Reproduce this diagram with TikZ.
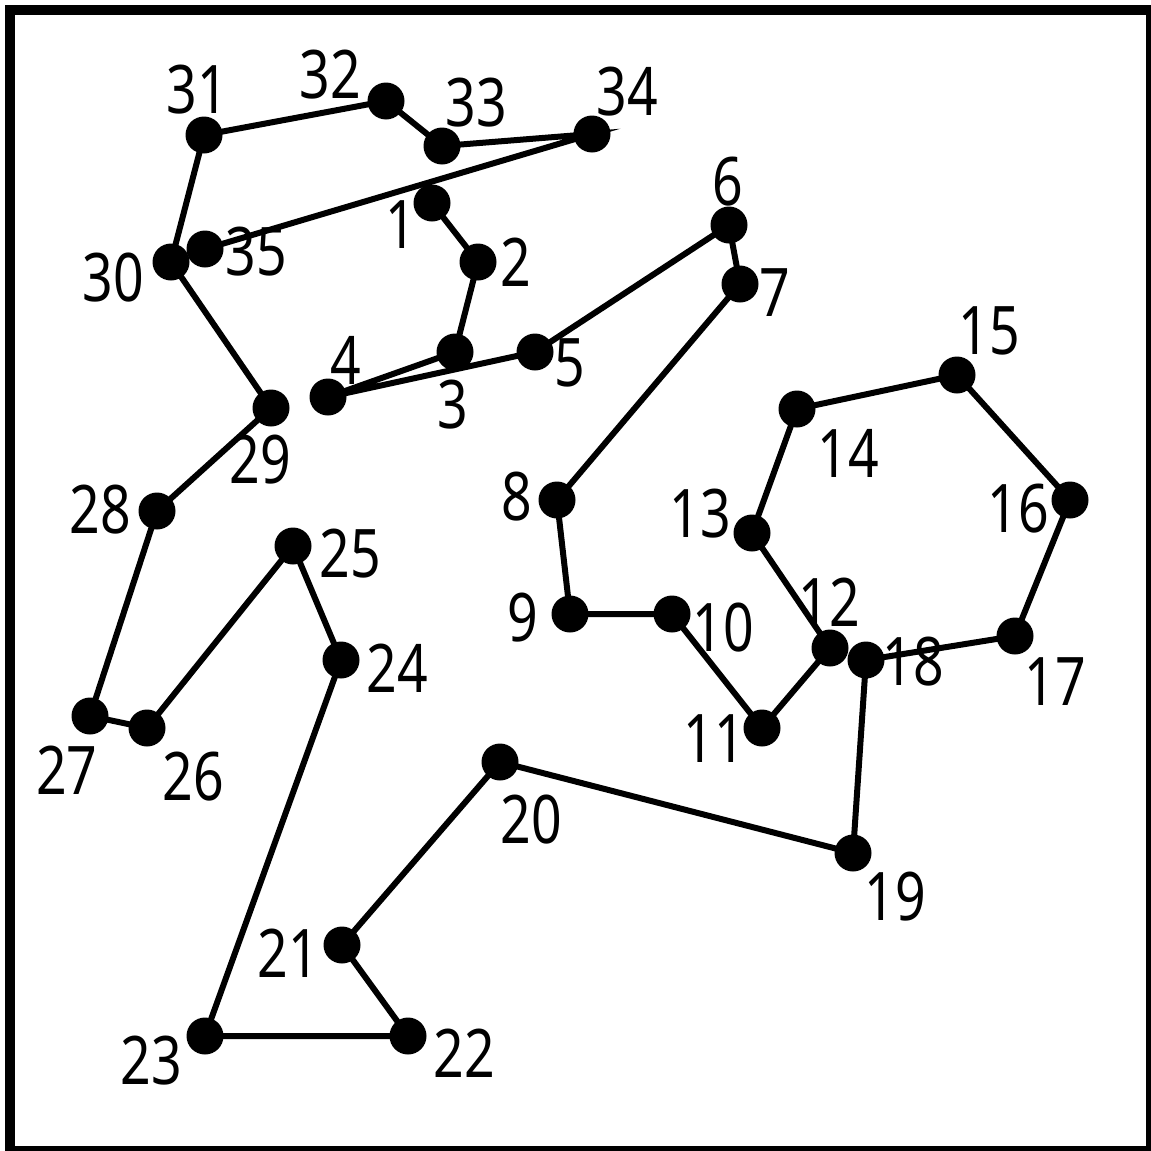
\documentclass[tikz,border=0pt]{standalone}
\usepackage{fontspec}
\setmainfont{Noto Sans}[FakeStretch=0.8]
\begin{document}
\begin{tikzpicture}[x=1pt,y=-1pt,
  dotmark/.style={circle,fill=black,inner sep=0pt,minimum size=37pt},
  lbl/.style={inner sep=0pt,font=\fontsize{67}{67}\selectfont},
  trail/.style={line width=6pt,line join=miter,miter limit=10}]
\useasboundingbox (0,0) rectangle (1151,1151);
\draw[line width=10pt] (10,10) rectangle (1151,1151);
\foreach \i/\x/\y in {1/432/203,2/478/262,3/455/352,4/328/397,5/535/352,6/729/225,7/740/284,8/557/500,9/570/614,10/672/614,11/762/728,12/830/648,13/752/533,14/797/409,15/957/375,16/1070/500,17/1015/636,18/866/660,19/853/853,20/500/762,21/342/945,22/408/1036,23/205/1036,24/341/660,25/293/546,26/147/728,27/90/716,28/157/511,29/271/408,30/171/262,31/204/135,32/386/101,33/442/146,34/592/134,35/205/249}
  \coordinate (p\i) at (\x,\y);
\draw[trail] (p1)--(p2)--(p3)--(p4)--(p5)--(p6)--(p7)--(p8)--(p9)--(p10)--(p11)--(p12)--(p13)--(p14)--(p15)--(p16)--(p17)--(p18)--(p19)--(p20)--(p21)--(p22)--(p23)--(p24)--(p25)--(p26)--(p27)--(p28)--(p29)--(p30)--(p31)--(p32)--(p33)--(p34)--(p35);
\foreach \i in {1,...,35}
  \node[dotmark] (d\i) at (p\i) {};
\foreach \i/\x/\y in {1/401/225,2/516/262,3/453/405,4/346/360,5/570/363,6/728/182,7/775/293,8/517/497,9/523/618,10/723/628,11/714/739,12/829/602,13/700/514,14/848/453,15/989/331,16/1018/509,17/1055/682,18/913/662,19/895/897,20/531/820,21/288/953,22/464/1053,23/151/1061,24/397/668,25/350/554,26/193/777,27/67/770,28/100/510,29/260/460,30/113/278,31/197/90,32/330/75,33/476/103,34/627/92,35/256/252}
  \node[lbl] (t\i) at (\x,\y) {\i};
\end{tikzpicture}
\end{document}
